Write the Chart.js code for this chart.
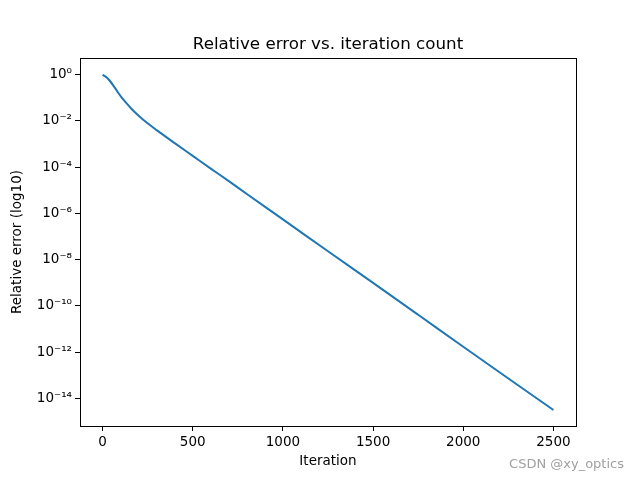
<!DOCTYPE html>
<html>
<head>
<meta charset="utf-8">
<script src="https://cdn.jsdelivr.net/npm/chart.js@4"></script>
<style>
  html, body { margin: 0; padding: 0; background: #fff; }
  #wrap { width: 640px; height: 480px; }
</style>
</head>
<body>
<div id="wrap"><canvas id="myChart" width="640" height="480"></canvas></div>
<script>
// values
const iterations = [0, 10, 25, 40, 60, 80, 100, 130, 160, 200, 250, 300, 400, 500, 600, 700, 800, 1000, 1250, 1500, 1750, 2000, 2250, 2500]
const relError = [1.0, 0.89, 0.74, 0.55, 0.34, 0.2, 0.12, 0.062, 0.034, 0.017, 7.9e-3, 4.0e-3, 1.1e-3,
  3.1e-4, 8.7e-5, 2.5e-5, 6.9e-6, 5.5e-7, 2.3e-8, 9.8e-10, 4.1e-11, 1.7e-12, 7.2e-14, 3.1e-15]
const xTicks = [0, 500, 1000, 1500, 2000, 2500]
const yTicks = [1e0, 1e-2, 1e-4, 1e-6, 1e-8, 1e-10, 1e-12, 1e-14]
const yTickLabels = ["10⁰", "10⁻²", "10⁻⁴", "10⁻⁶", "10⁻⁸", "10⁻¹⁰", "10⁻¹²", "10⁻¹⁴"]

const FONT = "'DejaVu Sans', sans-serif"

// frame, title and watermark
const extras = {
  id: "extras",
  afterDraw(chart) {
    const { ctx, chartArea: a } = chart
    ctx.save()
    ctx.strokeStyle = "#000"
    ctx.lineWidth = 1
    ctx.strokeRect(Math.round(a.left) + 0.5, Math.round(a.top) + 0.5, Math.round(a.right - a.left), Math.round(a.bottom - a.top))
    ctx.fillStyle = "#000"
    ctx.font = "16.7px " + FONT
    ctx.textAlign = "center"
    ctx.textBaseline = "alphabetic"
    ctx.fillText("Relative error vs. iteration count", (a.left + a.right) / 2, 49)
    ctx.fillStyle = "#a0a0a0"
    ctx.font = "13px " + FONT
    ctx.textAlign = "right"
    ctx.fillText("CSDN @xy_optics", 624, 468)
    ctx.restore()
  }
}

new Chart(document.getElementById("myChart"), {
  type: "line",
  data: {
    datasets: [{
      data: iterations.map((it, i) => ({ x: it, y: relError[i] })),
      borderColor: "#1f77b4",
      borderWidth: 2,
      pointRadius: 0,
      cubicInterpolationMode: "monotone",
      fill: false
    }]
  },
  options: {
    responsive: false,
    animation: false,
    layout: { padding: { left: 0, right: 64, top: 58, bottom: 0 } },
    plugins: { legend: { display: false }, tooltip: { enabled: false }, title: { display: false } },
    scales: {
      x: {
        type: "linear",
        min: -125,
        max: 2625,
        afterBuildTicks: (s) => { s.ticks = xTicks.map(v => ({ value: v })) },
        afterFit: (s) => { s.height = 54 },
        grid: { display: true, drawOnChartArea: false, drawTicks: true, tickLength: 5, color: "#000" },
        border: { display: true, color: "#000" },
        ticks: { color: "#000", font: { family: FONT, size: 13.5 }, padding: 3, maxRotation: 0, callback: (v) => String(v) },
        title: { display: true, text: "Iteration", color: "#000", font: { family: FONT, size: 13.5 }, padding: { top: 0, bottom: 10 } }
      },
      y: {
        type: "logarithmic",
        min: Math.pow(10, -15.2),
        max: Math.pow(10, 0.725),
        afterBuildTicks: (s) => { s.ticks = yTicks.map(v => ({ value: v })) },
        afterFit: (s) => { s.width = 80 },
        grid: { display: true, drawOnChartArea: false, drawTicks: true, tickLength: 5, color: "#000" },
        border: { display: true, color: "#000" },
        ticks: {
          color: "#000",
          font: { family: FONT, size: 13.5 },
          padding: 3,
          callback: (v) => {
            const i = yTicks.findIndex(t => Math.abs(Math.log10(t) - Math.log10(v)) < 1e-6)
            return i >= 0 ? yTickLabels[i] : ""
          }
        },
        title: { display: true, text: "Relative error (log10)", color: "#000", font: { family: FONT, size: 13.5 }, padding: { top: 9, bottom: 0 } }
      }
    }
  },
  plugins: [extras]
})
</script>
</body>
</html>
